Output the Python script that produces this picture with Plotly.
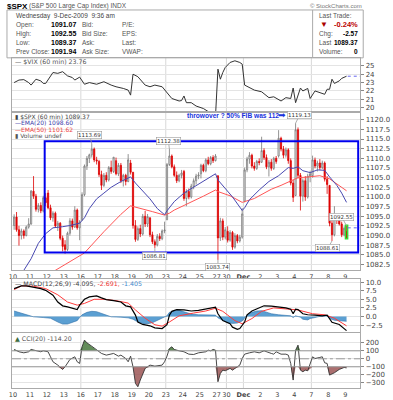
import plotly.graph_objects as go

# ---------------- data ----------------
day_pos = [0, 7, 14, 21, 28, 35, 42, 49, 56, 63, 70, 77, 84, 88, 95, 102, 109, 116, 123, 130, 137]
day_lbl = ["10", "11", "12", "13", "16", "17", "18", "19", "20", "23", "24", "25", "27", "30",
           "<b>Dec</b>", "2", "3", "4", "7", "8", "9"]
week_lines = [28, 63, 88, 95, 123]

opens = [1092.6, 1094.8, 1091.5, 1090.0, 1091.2, 1090.0, 1092.2,
         1093.0, 1101.5, 1100.2, 1096.8, 1097.8, 1096.4, 1099.8,
         1101.0, 1097.2, 1094.6, 1095.8, 1092.5, 1093.2, 1089.3,
         1087.6, 1086.4, 1090.6, 1093.8, 1092.2, 1096.6, 1092.0,
         1094.1, 1100.6, 1108.0, 1110.0, 1110.9, 1112.4, 1109.6,
         1109.2, 1105.8, 1103.0, 1105.6, 1104.4, 1107.6, 1106.6,
         1109.4, 1106.0, 1108.2, 1104.2, 1105.6, 1104.0, 1108.8,
         1106.4, 1092.6, 1089.0, 1091.8, 1090.4, 1095.0, 1093.0,
         1094.6, 1090.2, 1088.4, 1087.6, 1089.8, 1089.2, 1091.2,
         1094.1, 1108.4, 1110.6, 1107.8, 1105.6, 1104.2, 1105.6,
         1106.6, 1099.6, 1101.4, 1100.0, 1102.8, 1104.2, 1105.4,
         1106.0, 1108.2, 1106.8, 1109.6, 1108.6, 1110.2, 1109.4,
         1105.5, 1089.4, 1093.8, 1089.6,
         1091.1, 1088.8, 1090.8, 1087.0, 1090.0, 1088.6, 1089.6,
         1098.9, 1107.0, 1109.8, 1110.8, 1108.0, 1107.4, 1109.2,
         1109.0, 1112.0, 1110.2, 1107.8, 1109.0, 1107.4, 1110.0,
         1110.6, 1115.2, 1112.4, 1110.8, 1112.2, 1109.4, 1103.6,
         1100.4, 1117.4, 1105.6, 1100.2, 1104.2, 1100.0, 1105.4,
         1105.5, 1109.6, 1108.0, 1108.8, 1107.6, 1108.8, 1104.6,
         1103.0, 1093.2, 1090.2, 1094.8, 1094.4, 1093.0, 1090.2,
         1091.07]
highs = [1095.5, 1096.1, 1092.5, 1091.8, 1091.6, 1092.6, 1094.5,
         1101.8, 1105.4, 1100.8, 1098.4, 1098.6, 1100.3, 1101.0,
         1101.8, 1098.0, 1096.3, 1096.2, 1093.8, 1093.5, 1090.0,
         1088.8, 1091.0, 1094.5, 1094.4, 1097.6, 1097.0, 1094.0,
         1101.2, 1108.4, 1110.6, 1111.2, 1113.7, 1112.8, 1110.4,
         1109.6, 1106.8, 1106.2, 1106.4, 1108.0, 1109.4, 1110.3,
         1110.2, 1108.8, 1108.8, 1106.0, 1106.0, 1111.1, 1109.6,
         1106.4, 1094.0, 1092.4, 1092.8, 1095.6, 1096.4, 1095.6,
         1094.7, 1091.0, 1089.0, 1090.4, 1090.6, 1091.6, 1093.6,
         1108.8, 1112.4, 1111.0, 1108.4, 1106.6, 1106.0, 1107.0,
         1107.0, 1102.0, 1102.2, 1103.4, 1104.8, 1106.0, 1106.4,
         1108.6, 1108.6, 1110.0, 1110.4, 1110.6, 1110.8, 1111.1,
         1105.5, 1094.6, 1094.4, 1092.2,
         1092.4, 1091.4, 1091.2, 1090.6, 1090.4, 1090.2, 1097.1,
         1107.6, 1110.4, 1111.6, 1111.2, 1109.0, 1109.6, 1110.0,
         1115.6, 1112.6, 1111.0, 1109.6, 1109.8, 1110.4, 1110.6,
         1117.3, 1115.6, 1113.2, 1112.8, 1112.6, 1110.0, 1104.4,
         1119.1, 1118.0, 1106.2, 1104.8, 1105.4, 1106.0, 1106.8,
         1110.7, 1110.2, 1109.4, 1109.8, 1109.4, 1109.2, 1105.4,
         1103.0, 1094.0, 1097.6, 1095.6, 1094.8, 1093.6, 1092.4,
         1092.55]
lows = [1091.5, 1091.0, 1087.4, 1089.0, 1089.2, 1089.8, 1091.8,
        1092.8, 1099.5, 1096.2, 1096.0, 1095.8, 1096.0, 1097.6,
        1096.8, 1094.0, 1093.6, 1092.0, 1091.2, 1088.8, 1085.9,
        1085.3, 1086.0, 1090.0, 1091.5, 1092.0, 1091.5, 1088.8,
        1093.8, 1100.2, 1107.0, 1108.8, 1110.2, 1109.0, 1108.4,
        1105.2, 1101.8, 1102.6, 1103.8, 1104.0, 1106.0, 1106.2,
        1105.6, 1105.4, 1103.6, 1102.7, 1103.0, 1103.8, 1105.8,
        1091.8, 1088.4, 1088.6, 1089.6, 1090.0, 1092.2, 1092.2,
        1089.6, 1087.8, 1086.8, 1087.2, 1088.6, 1088.8, 1090.6,
        1094.0, 1108.0, 1107.4, 1105.2, 1103.6, 1103.8, 1104.8,
        1099.0, 1097.6, 1099.4, 1099.6, 1102.0, 1103.2, 1104.6,
        1104.8, 1106.4, 1106.4, 1108.2, 1108.2, 1108.8, 1109.2,
        1083.7, 1088.6, 1088.8, 1089.0,
        1088.2, 1088.4, 1086.3, 1086.6, 1088.0, 1088.2, 1089.2,
        1098.6, 1106.4, 1108.6, 1107.4, 1106.8, 1107.0, 1108.2,
        1108.8, 1109.6, 1107.2, 1105.3, 1106.8, 1107.0, 1108.6,
        1110.2, 1111.8, 1110.0, 1110.2, 1108.6, 1103.0, 1098.7,
        1100.2, 1104.8, 1096.5, 1098.8, 1099.0, 1099.6, 1103.8,
        1105.0, 1107.4, 1106.6, 1107.0, 1107.2, 1104.0, 1100.8,
        1092.4, 1088.6, 1089.8, 1093.0, 1092.6, 1089.6, 1089.8,
        1089.37]
closes = [1094.8, 1091.5, 1090.0, 1091.2, 1090.0, 1092.2, 1093.0,
          1101.5, 1100.2, 1096.8, 1097.8, 1096.4, 1099.8, 1098.5,
          1097.2, 1094.6, 1095.8, 1092.5, 1093.2, 1089.3, 1087.2,
          1086.4, 1090.6, 1093.8, 1092.2, 1096.6, 1092.0, 1093.5,
          1100.6, 1108.0, 1110.0, 1110.9, 1112.4, 1109.6, 1109.3,
          1105.8, 1103.0, 1105.6, 1104.4, 1107.6, 1106.6, 1110.3,
          1106.0, 1108.2, 1104.2, 1105.6, 1104.0, 1109.6, 1106.4,
          1092.6, 1089.0, 1091.8, 1090.4, 1095.0, 1093.0, 1094.9,
          1090.2, 1088.4, 1087.6, 1089.8, 1089.2, 1091.2, 1091.4,
          1108.4, 1110.6, 1107.8, 1105.6, 1104.2, 1105.6, 1106.2,
          1099.6, 1101.4, 1100.0, 1102.8, 1104.2, 1105.4, 1105.7,
          1108.2, 1106.8, 1109.6, 1108.6, 1110.2, 1109.4, 1110.6,
          1089.4, 1093.8, 1089.6, 1091.5,
          1088.8, 1090.8, 1087.0, 1090.0, 1088.6, 1089.6, 1095.6,
          1107.0, 1109.8, 1110.8, 1108.0, 1107.4, 1109.2, 1108.9,
          1112.0, 1110.2, 1107.8, 1109.0, 1107.4, 1110.0, 1109.2,
          1115.2, 1112.4, 1110.8, 1112.2, 1109.4, 1103.6, 1099.9,
          1117.4, 1105.6, 1100.2, 1104.2, 1100.0, 1105.4, 1106.0,
          1109.6, 1108.0, 1108.8, 1107.6, 1108.8, 1104.6, 1103.2,
          1093.2, 1090.2, 1094.8, 1094.4, 1093.0, 1090.2, 1091.9,
          1089.37]

ema20_pos = [0, 4, 7, 10, 13, 16, 20, 23, 27, 29, 31, 34, 37, 40, 44, 48, 50, 53, 56, 59, 62,
             63, 66, 70, 74, 78, 83, 84, 87, 90, 94, 95, 97, 101, 105, 109, 113, 115, 117, 119,
             122, 125, 128, 130, 133, 135, 137]
ema20_val = [1077.5, 1081.0, 1084.0, 1088.0, 1090.5, 1092.0, 1092.3, 1092.6, 1093.2, 1094.6,
             1097.0, 1099.5, 1101.0, 1102.5, 1104.0, 1105.2, 1103.6, 1101.5, 1099.5, 1097.0,
             1095.4, 1096.4, 1098.8, 1101.0, 1102.5, 1104.2, 1106.0, 1104.4, 1102.2, 1100.0,
             1096.5, 1097.2, 1099.3, 1101.8, 1104.0, 1105.5, 1107.6, 1107.4, 1107.8, 1106.8,
             1106.3, 1107.0, 1106.9, 1105.2, 1103.0, 1101.0, 1098.6]
ema50_pos = [10, 14, 17, 23, 29, 37, 44, 48, 50, 53, 57, 62, 64, 66, 73, 78, 83, 84, 89, 94, 99,
             106, 110, 115, 117, 120, 126, 130, 134, 137]
ema50_val = [1076.5, 1079.8, 1081.0, 1083.2, 1085.5, 1091.0, 1095.5, 1097.7, 1097.4, 1096.9,
             1096.2, 1095.3, 1095.8, 1096.6, 1098.6, 1100.2, 1101.8, 1101.4, 1100.3, 1098.6,
             1099.6, 1102.0, 1103.0, 1104.4, 1105.0, 1105.1, 1105.5, 1104.7, 1103.0, 1101.6]

vix_pos = [0, 2, 4, 6, 7, 9, 11, 12, 13, 16, 18, 20, 22, 24, 25, 27, 29, 31, 34, 37, 40, 42, 45,
           47, 48, 49, 51, 52, 54, 56, 58, 61, 63, 65, 68, 69, 70, 71, 73, 75, 78, 80, 82, 83,
           84, 85, 86, 87, 89, 91, 93, 94, 95, 97, 99, 102, 105, 107, 109, 110, 112, 114, 115,
           116, 118, 119, 121, 122, 124, 126, 128, 129, 130, 131, 132, 134, 135, 137]
vix_val = [23.0, 23.3, 23.35, 23.0, 22.7, 23.4, 23.2, 22.9, 22.9, 24.2, 24.1, 24.3, 23.8, 23.6,
           23.3, 23.65, 22.8, 23.0, 22.8, 23.1, 22.7, 22.5, 22.3, 22.1, 21.5, 24.0, 23.7, 23.4,
           22.7, 22.5, 22.7, 22.5, 21.75, 21.1, 20.8, 20.85, 21.4, 20.6, 20.6, 20.2, 19.9, 19.5,
           19.2, 19.0, 24.6, 23.4, 24.2, 24.8, 25.4, 25.6, 25.4, 25.2, 22.7, 22.4, 22.1, 21.9,
           21.2, 21.3, 21.0, 20.8, 21.2, 21.1, 22.35, 20.6, 22.35, 22.0, 22.3, 21.1, 22.0, 21.8,
           21.6, 22.2, 22.2, 23.4, 22.9, 23.2, 23.5, 23.76]

macd_pos = [0, 3, 5, 8, 11, 13, 16, 18, 20, 22, 24, 26, 27, 29, 31, 34, 36, 38, 41, 44, 46, 48,
            50, 51, 53, 56, 58, 61, 63, 64, 65, 67, 70, 73, 76, 79, 81, 83, 84, 86, 89, 90, 92,
            93, 95, 96, 98, 101, 103, 106, 109, 112, 114, 115, 116, 117, 119, 121, 124, 127,
            129, 131, 134, 137]
macd_val = [8.1, 8.9, 8.9, 8.6, 8.1, 7.6, 6.2, 4.2, 3.1, 2.8, 2.5, 2.0, 3.3, 5.0, 5.7, 6.0, 5.4,
            4.9, 4.6, 4.2, 3.1, 2.8, 0.4, -1.6, -2.3, -2.7, -3.3, -3.5, -2.4, 0.4, 1.5, 2.0, 1.9,
            1.6, 1.8, 2.2, 2.5, 2.7, 0.8, -1.2, -2.1, -3.1, -3.7, -3.5, -1.6, 0.5, 1.6, 2.5, 3.1,
            3.0, 2.8, 2.5, 2.1, 0.8, 2.1, 2.0, 0.8, 0.5, 0.4, 0.2, 0.4, -1.7, -2.3, -4.1]
sig_pos = [0, 3, 8, 13, 18, 22, 26, 29, 33, 37, 42, 47, 50, 54, 58, 61, 64, 68, 74, 79, 83, 86,
           91, 94, 98, 102, 107, 113, 117, 123, 128, 132, 137]
sig_val = [7.8, 8.9, 8.8, 8.1, 6.3, 4.2, 3.3, 3.8, 5.0, 5.0, 4.6, 3.9, 1.9, -0.5, -2.4, -2.8,
           -1.6, 0.2, 1.0, 1.6, 2.4, 1.5, -1.2, -2.1, -0.6, 1.5, 2.5, 2.1, 1.9, 0.8, 0.5, -0.5,
           -2.7]
hist_pos = [0, 2, 4, 6, 8, 12, 15, 18, 20, 22, 24, 26, 27, 28, 30, 32, 34, 36, 38, 40, 44, 47,
            49, 51, 53, 55, 57, 59, 61, 63, 64, 66, 68, 70, 73, 76, 80, 83, 84, 86, 88, 90, 92,
            94, 95, 96, 98, 100, 102, 104, 106, 109, 112, 114, 115, 116, 118, 119, 121, 122, 124,
            126, 128, 129, 130, 132, 134, 137]
hist_val = [1.6, 1.2, 0.6, 0.2, -0.1, -0.3, -0.5, -1.6, -2.2, -2.2, -1.8, -1.2, -0.3, 0.5, 1.2,
            1.5, 1.4, 0.9, 0.3, -0.1, -0.2, -0.4, -0.8, -1.6, -2.0, -2.1, -1.8, -1.2, -0.6, 0.2,
            1.2, 1.7, 1.8, 1.3, 0.7, 0.5, 0.4, 0.4, -0.4, -1.2, -1.8, -2.0, -1.9, -1.3, -0.5, 0.4,
            1.2, 1.6, 1.7, 1.3, 0.8, 0.5, 0.4, 0.2, -0.3, 0.2, -0.2, -0.8, -1.0, -0.6, -0.3, 0.1,
            0.4, 0.2, -0.6, -1.1, -1.3, -1.4]

cci_pos = [0, 2, 4, 6, 7, 9, 11, 12, 14, 15, 16, 18, 20, 21, 23, 25, 26, 27, 28, 29, 30, 32, 34,
           36, 38, 40, 41, 43, 44, 46, 47, 48, 49, 50, 51, 52, 53, 54, 56, 58, 61, 62, 63, 64, 65,
           66, 68, 70, 72, 74, 76, 79, 80, 81, 82, 83, 84, 85, 86, 87, 89, 90, 91, 93, 94, 95, 97,
           99, 101, 103, 106, 107, 108, 110, 112, 113, 114, 115, 116, 117, 118, 119, 120, 121,
           123, 124, 126, 127, 128, 129, 130, 132, 134, 136, 137]
cci_val = [117, 88, 75, 88, 117, 100, 88, 100, 88, 25, -37, -79, -133, -100, -8, 25, -37, -58,
           150, 234, 200, 158, 108, 67, 46, 58, 67, 33, 46, 4, -37, 33, -100, -308, -350, -266,
           -183, -120, -79, -92, -79, -37, 33, 129, 150, 117, 100, 88, 58, 54, 75, 88, 108, 100,
           117, 108, -287, -183, -142, -150, -120, -142, -120, -79, 4, 58, 75, 88, 75, 100, 67,
           58, 88, 58, 58, 46, -58, -266, 108, 171, -142, -162, -142, -150, 25, 4, 17, 25, -50,
           -58, -204, -175, -133, -108, -114]

# ---------------- geometry helpers ----------------
W, H = 393, 400


def pxx(x):
    return x / W


def pxy(y):
    return 1 - y / H


XD = [pxx(9), pxx(360)]
XR = [-0.4, 143.15]
FONT = "DejaVu Sans"
GRID = "#e4e4e4"

fig = go.Figure()

# ---- VIX panel ----
fig.add_trace(go.Scatter(x=[p + 0.5 for p in vix_pos], y=vix_val, mode="lines",
                         line=dict(color="#333333", width=1), xaxis="x", yaxis="y",
                         showlegend=False, hoverinfo="skip"))

# ---- price panel ----
n = len(opens)
xs = [i + 0.5 for i in range(n)]
fig.add_trace(go.Candlestick(x=xs, open=opens, high=highs, low=lows, close=closes,
                             xaxis="x2", yaxis="y2", whiskerwidth=0,
                             increasing=dict(line=dict(color="#777777", width=0.8), fillcolor="white"),
                             decreasing=dict(line=dict(color="#dd0000", width=0.8), fillcolor="#dd0000"),
                             showlegend=False, hoverinfo="skip"))
fig.add_trace(go.Scatter(x=[p + 0.5 for p in ema50_pos], y=ema50_val, mode="lines",
                         line=dict(color="#ff5555", width=1), xaxis="x2", yaxis="y2",
                         showlegend=False, hoverinfo="skip"))
fig.add_trace(go.Scatter(x=[p + 0.5 for p in ema20_pos], y=ema20_val, mode="lines",
                         line=dict(color="#4848b0", width=1), xaxis="x2", yaxis="y2",
                         showlegend=False, hoverinfo="skip"))

# ---- MACD panel ----
hx = [p + 0.5 for p in hist_pos]
fig.add_trace(go.Scatter(x=hx, y=hist_val, mode="lines", fill="tozeroy",
                         fillcolor="#5b9fd2", line=dict(color="#2f6fa8", width=0.6),
                         xaxis="x3", yaxis="y3", showlegend=False, hoverinfo="skip"))
fig.add_trace(go.Scatter(x=[p + 0.5 for p in sig_pos], y=sig_val, mode="lines",
                         line=dict(color="#ff3b3b", width=1), xaxis="x3", yaxis="y3",
                         showlegend=False, hoverinfo="skip"))
fig.add_trace(go.Scatter(x=[p + 0.5 for p in macd_pos], y=macd_val, mode="lines",
                         line=dict(color="#000000", width=1.2), xaxis="x3", yaxis="y3",
                         showlegend=False, hoverinfo="skip"))

# ---- CCI panel ----
cx = [p + 0.5 for p in cci_pos]
cci_hi = [max(v, 100) for v in cci_val]
cci_lo = [min(v, -100) for v in cci_val]
fig.add_trace(go.Scatter(x=cx, y=[100] * len(cx), mode="lines", line=dict(width=0),
                         xaxis="x4", yaxis="y4", showlegend=False, hoverinfo="skip"))
fig.add_trace(go.Scatter(x=cx, y=cci_hi, mode="lines", line=dict(width=0), fill="tonexty",
                         fillcolor="rgba(70,120,60,0.85)", xaxis="x4", yaxis="y4",
                         showlegend=False, hoverinfo="skip"))
fig.add_trace(go.Scatter(x=cx, y=[-100] * len(cx), mode="lines", line=dict(width=0),
                         xaxis="x4", yaxis="y4", showlegend=False, hoverinfo="skip"))
fig.add_trace(go.Scatter(x=cx, y=cci_lo, mode="lines", line=dict(width=0), fill="tonexty",
                         fillcolor="rgba(150,75,75,0.8)", xaxis="x4", yaxis="y4",
                         showlegend=False, hoverinfo="skip"))
fig.add_trace(go.Scatter(x=cx, y=cci_val, mode="lines", line=dict(color="#333333", width=0.9),
                         xaxis="x4", yaxis="y4", showlegend=False, hoverinfo="skip"))

# ---------------- axes ----------------
tickfont = dict(family=FONT, size=7, color="#444444")
datefont = dict(family=FONT, size=6.5, color="#444444")


def xax(anchor, labels):
    return dict(domain=XD, range=XR, anchor=anchor, showgrid=False, zeroline=False,
                showline=True, mirror=True, linecolor="#aaaaaa", linewidth=1,
                tickmode="array", tickvals=day_pos, ticktext=day_lbl, tickangle=0,
                showticklabels=labels, ticks="", tickfont=datefont, fixedrange=True)


def yax(anchor, dom, rng, vals, fmt):
    return dict(domain=dom, range=rng, anchor=anchor, side="right", showgrid=True,
                gridcolor=GRID, gridwidth=1, zeroline=False, showline=True, mirror=True,
                linecolor="#aaaaaa", linewidth=1, tickmode="array", tickvals=vals,
                tickformat=fmt, ticks="outside", ticklen=3, tickcolor="#888888",
                tickfont=tickfont, fixedrange=True)


price_ticks = [1082.5 + 2.5 * k for k in range(16)]
fig.update_layout(
    width=W, height=H, margin=dict(l=0, r=0, t=0, b=0),
    paper_bgcolor="white", plot_bgcolor="white", showlegend=False,
    xaxis=xax("y", False),
    yaxis=yax("x", [pxy(111), pxy(57)], [19.52, 25.95], [20, 21, 22, 23, 24, 25], "d"),
    xaxis2=dict(xax("y2", True), rangeslider=dict(visible=False)),
    yaxis2=yax("x2", [pxy(270), pxy(111)], [1081.0, 1122.07], price_ticks, ".1f"),
    xaxis3=xax("y3", False),
    yaxis3=yax("x3", [pxy(332), pxy(279)], [-4.55, 10.8], [-2.5, 0, 2.5, 5, 7.5, 10], ".1f"),
    xaxis4=xax("y4", True),
    yaxis4=yax("x4", [pxy(388), pxy(333)], [-366, 321], [-300, -200, -100, 0, 100, 200], "d"),
)

# ---------------- shapes ----------------
shapes = []
for xa, ya in [("x", "y"), ("x2", "y2"), ("x3", "y3"), ("x4", "y4")]:
    for w in week_lines:
        shapes.append(dict(type="line", xref=xa, yref=ya + " domain", x0=w, x1=w, y0=0, y1=1,
                           line=dict(color="#d8d8d8", width=1), layer="below"))
shapes.append(dict(type="line", xref="x4 domain", yref="y4", x0=0, x1=1, y0=100, y1=100,
                   line=dict(color="#999999", width=1)))
shapes.append(dict(type="line", xref="x4 domain", yref="y4", x0=0, x1=1, y0=-100, y1=-100,
                   line=dict(color="#999999", width=1)))
shapes.append(dict(type="line", xref="x4 domain", yref="y4", x0=0, x1=1, y0=0, y1=0,
                   line=dict(color="#999999", width=1, dash="dashdot")))
shapes.append(dict(type="rect", xref="x2", yref="y2", x0=13.1, x1=142.3, y0=1085.6, y1=1114.4,
                   line=dict(color="#0000ee", width=2)))
shapes.append(dict(type="rect", xref="x2", yref="y2", x0=137.05, x1=137.95, y0=1089.2,
                   y1=1092.7, line=dict(color="#33dd33", width=1.5)))
shapes.append(dict(type="line", xref="x", yref="y", x0=138, x1=XR[1], y0=23.76, y1=23.76,
                   line=dict(color="#6666ee", width=1, dash="dot")))
shapes.append(dict(type="line", xref="x2", yref="y2", x0=138, x1=XR[1], y0=1092.0, y1=1092.0,
                   line=dict(color="#6666ee", width=1, dash="dot")))
shapes.append(dict(type="rect", xref="paper", yref="paper", x0=pxx(4), x1=pxx(363),
                   y0=pxy(57), y1=pxy(9), line=dict(color="#aaaaaa", width=1)))
shapes.append(dict(type="line", xref="paper", yref="paper", x0=pxx(312), x1=pxx(312),
                   y0=pxy(57), y1=pxy(9), line=dict(color="#aaaaaa", width=1)))
fig.update_layout(shapes=shapes)

# ---------------- annotations ----------------
ann = []


def txt(x, y, s, size=6.5, color="#333333", anchor="left", bold=False, family="Liberation Sans"):
    ann.append(dict(xref="paper", yref="paper", x=pxx(x), y=pxy(y),
                    text=("<b>%s</b>" % s) if bold else s,
                    showarrow=False, xanchor=anchor, yanchor="middle", borderpad=0,
                    font=dict(family=family, size=size, color=color)))


txt(3, 5.5, "$SPX", size=8, color="#000000", bold=True)
txt(25, 5.5, "(S&P 500 Large Cap Index) INDX", size=6.5, color="#555555")
txt(363, 5, "© StockCharts.com", size=6, color="#777777", anchor="right")

txt(12, 15, "Wednesday&nbsp;&nbsp;9-Dec-2009&nbsp;&nbsp;9:36 am", color="#444444")
rows = [("Open:", "1091.07", "Bid:", "P/E:"), ("High:", "1092.55", "Bid Size:", "EPS:"),
        ("Low:", "1089.37", "Ask:", "Last:"), ("Prev Close:", "1091.94", "Ask Size:", "VWAP:")]
for k, (a, b, c, d) in enumerate(rows):
    yy = 24 + 9 * k
    txt(12, yy, a, color="#555555")
    txt(75, yy, b, color="#000000", anchor="right", bold=True, size=7)
    txt(79, yy, c, color="#555555")
    txt(119, yy, d, color="#555555")

txt(317, 15, "Last Trade:", color="#555555")
txt(318, 24, "▼", color="#aa0000", size=8)
txt(359, 24, "-0.24%", color="#bb0000", anchor="right", bold=True, size=7.5)
txt(317, 33, "Chg:", color="#555555")
txt(359, 33, "-2.57", color="#000000", anchor="right", bold=True)
txt(317, 42, "Last", color="#555555")
txt(359, 42, "1089.37", color="#000000", anchor="right", bold=True)
txt(317, 51, "Volume:", color="#555555")
txt(359, 51, "0", color="#000000", anchor="right", bold=True)

txt(11, 61, "— $VIX (60 min) 23.76", color="#555555", size=6.3, family=FONT)
txt(11, 115.5, "▮ $SPX (60 min) 1089.37", color="#444444", size=6, family=FONT)
txt(11, 122, "—EMA(20) 1098.60", color="#4040aa", size=6, family=FONT)
txt(11, 128.5, "—EMA(50) 1101.62", color="#ee4444", size=6, family=FONT)
txt(11, 135, "▮ Volume undef", color="#555555", size=6, family=FONT)
txt(11, 283, "— MACD(12,26,9) -4.095, <span style='color:#ee3333'>-2.691,</span> "
             "<span style='color:#4488cc'>-1.405</span>", color="#444444", size=6.3, family=FONT)
txt(11, 338, "<span style='color:#3d6b3d'>▲</span> CCI(20) -114.20", color="#555555", size=6.3,
    family=FONT)

txt(184, 115, "throwover ? 50% FIB was 112", color="#1a33dd", size=6.6, bold=True,
    family="Liberation Sans")
txt(276, 114.5, "➡", color="#1a33dd", size=9)


def plab(xv, yv, s, ax, ay):
    ann.append(dict(xref="x2", yref="y2", x=xv, y=yv, text=s, showarrow=True, arrowhead=0,
                    arrowwidth=0.8, arrowcolor="#999999", ax=ax, ay=ay, standoff=0,
                    font=dict(family=FONT, size=5.5, color="#333333"),
                    bgcolor="white", bordercolor="#999999", borderwidth=0.6, borderpad=0.5))


plab(32.5, 1113.7, "1113.69", -2, -9)
plab(64.5, 1112.4, "1112.38", -1, -8)
plab(116.5, 1119.1, "1119.13", 4, -8)
plab(58.5, 1086.8, "1086.81", 0, 8)
plab(84.5, 1083.7, "1083.74", 0, 7)
plab(131.5, 1088.6, "1088.61", -4, 7)
plab(137.5, 1092.55, "1092.55", -5, -9)

fig.update_layout(annotations=ann)

fig.write_html("out.html", config={"displayModeBar": False},
               post_script="document.body.style.margin='0';document.body.style.overflow='hidden';")
